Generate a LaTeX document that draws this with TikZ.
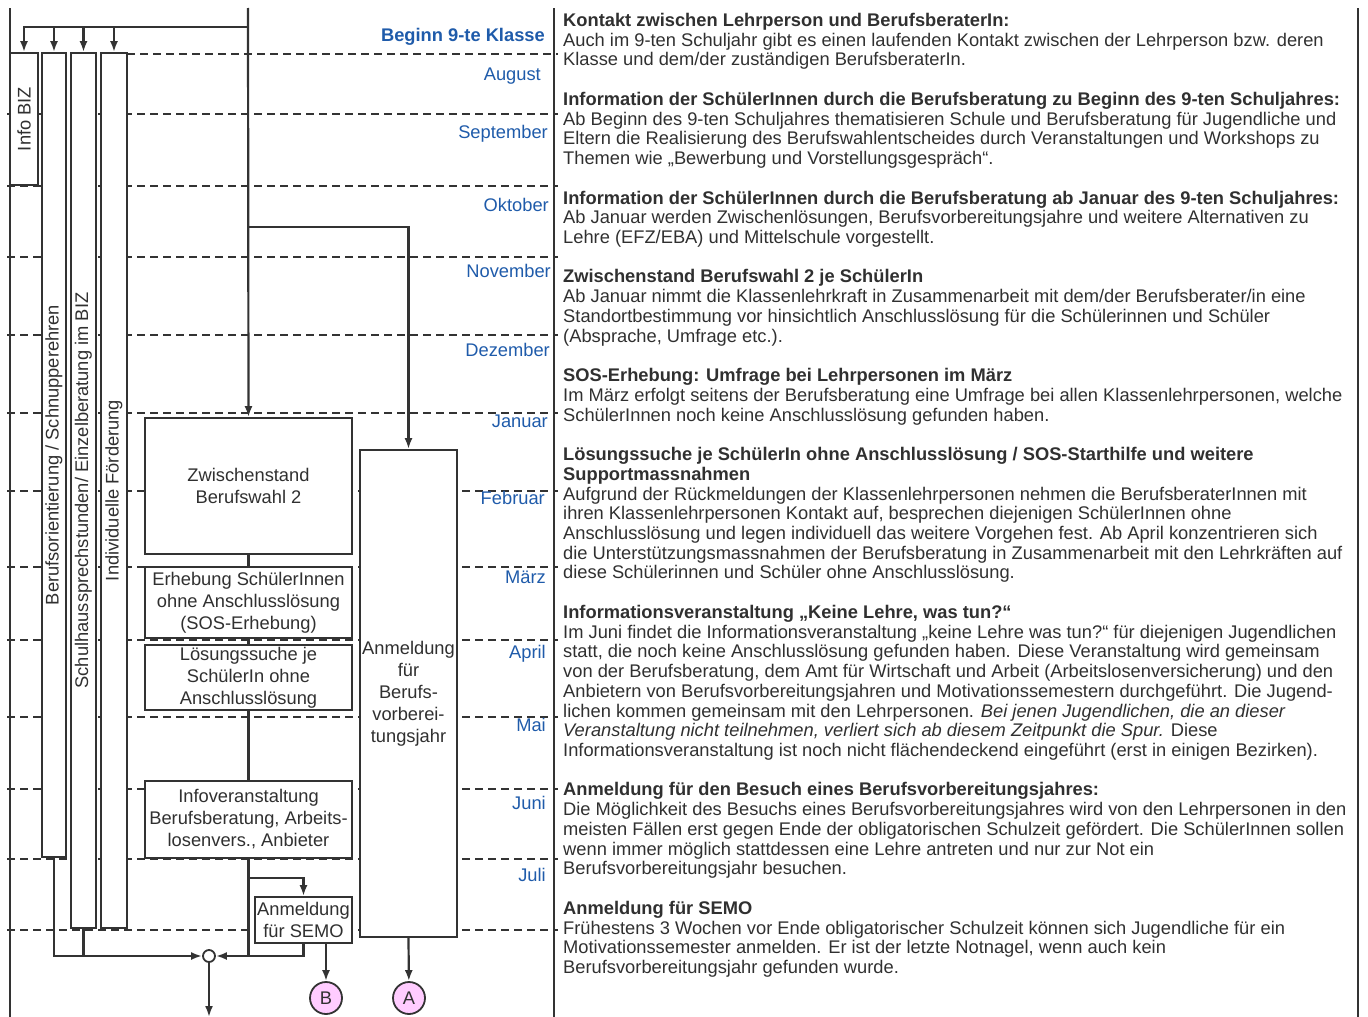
\documentclass[tikz,border=0pt]{standalone}
\usepackage{fontspec}
\setmainfont{Liberation Sans}
\usetikzlibrary{arrows.meta}
\definecolor{linegray}{HTML}{333333}
\definecolor{textgray}{HTML}{303030}
\definecolor{monthblue}{HTML}{1F5BAA}
\definecolor{markpink}{HTML}{FFCCFF}
\newcommand{\boxfont}{\fontsize{18.3}{22}\selectfont}

\tikzset{
  flow/.style={draw=linegray, line width=2.2pt},
  frameline/.style={draw=linegray, line width=1.5pt},
  monthline/.style={draw=linegray, line width=1.3pt, dash pattern=on 8pt off 5pt},
  stepbox/.style={draw=linegray, line width=1.8pt, fill=white, text=textgray,
    align=center, inner sep=0pt, font=\boxfont},
  colbox/.style={draw=linegray, line width=1.8pt, fill=white, inner sep=0pt},
  collabel/.style={rotate=90, text=textgray, font=\boxfont},
  month/.style={anchor=base east, inner sep=0pt, text=monthblue, font=\boxfont},
  % anchor base = baseline of the last line
  infotext/.style={anchor=base west, align=left, inner sep=0pt, text=textgray,
    font=\fontsize{18.3}{19.73}\selectfont},
  letter/.style={circle, draw=linegray, line width=1.8pt, fill=markpink,
    minimum size=32pt, inner sep=0pt, text=textgray, font=\boxfont},
  merge/.style={circle, draw=linegray, line width=1.8pt, fill=white,
    minimum size=12pt, inner sep=0pt},
}

\begin{document}
\begin{tikzpicture}[x=1pt, y=-1pt, >={Latex[length=11pt,width=8pt]}]
\useasboundingbox (0,0) rectangle (1368,1017);

% month grid
\draw[monthline] (127,54) -- (558,54);
\foreach \y in {114,186,257,335,413,491,567,640,717,789,859,930}
  \draw[monthline] (7,\y) -- (558,\y);

% frame
\draw[frameline] (10,8) -- (10,1017);
\draw[frameline] (554,8) -- (554,1017);
\draw[frameline] (1358,8) -- (1358,1017);

% months
\node[month, font=\boxfont\bfseries] (beginn) at (545,41.5) {Beginn 9-te Klasse};
\node[month] (aug) at (541,80.5) {August};
\node[month] (sep) at (548,138.5) {September};
\node[month] (okt) at (549,211.5) {Oktober};
\node[month] (nov) at (551,277.5) {November};
\node[month] (dez) at (550,356.5) {Dezember};
\node[month] (jan) at (548,427.5) {Januar};
\node[month] (feb) at (545,504.5) {Februar};
\node[month] (mar) at (546,583.5) {März};
\node[month] (apr) at (546,658.5) {April};
\node[month] (mai) at (546,731.5) {Mai};
\node[month] (jun) at (546,809.5) {Juni};
\node[month] (jul) at (546,881.5) {Juli};

% columns
\node[colbox, minimum width=28, minimum height=132,
  label={[collabel]center:Info BIZ}] (infobiz) at (24,119) {};
\node[colbox, minimum width=24, minimum height=804,
  label={[collabel]center:Berufsorientierung / Schnupperehren}] (berufso) at (54,455) {};
\node[colbox, minimum width=25, minimum height=875,
  label={[collabel]center:Schulhaussprechstunden/ Einzelberatung im BIZ}] (schulh) at (83.5,490.5) {};
\node[colbox, minimum width=26, minimum height=875,
  label={[collabel]center:Individuelle Förderung}] (indiv) at (114,490.5) {};

% steps
\node[stepbox, minimum width=207, minimum height=136] (zw) at (248.5,486) {Zwischenstand\\Berufswahl 2};
\node[stepbox, minimum width=207, minimum height=71] (erheb) at (248.5,602.5) {Erhebung SchülerInnen\\ohne Anschlusslösung\\(SOS-Erhebung)};
\node[stepbox, minimum width=207, minimum height=65] (loes) at (248.5,677.5) {Lösungssuche je\\SchülerIn ohne\\Anschlusslösung};
\node[stepbox, minimum width=207, minimum height=77] (infov) at (248.5,819.5) {Infoveranstaltung\\Berufsberatung, Arbeits-\\losenvers., Anbieter};
\node[stepbox, minimum width=97, minimum height=46] (semo) at (303.5,920) {Anmeldung\\für SEMO};
\node[stepbox, minimum width=97, minimum height=487] (bvj) at (408.5,693.5) {Anmeldung\\für\\Berufs-\\vorberei-\\tungsjahr};

\node[merge] (join) at (209,956) {};
\node[letter] (markb) at (326,998) {B};
\node[letter] (marka) at (409,998) {A};

% connectors
\coordinate (start) at (248,8);
\coordinate (split) at (248,27);
\coordinate (splitb) at (248,227);
\coordinate (fork) at (248,878);
\coordinate (out) at (209,1017);
\draw[flow, ->] (start) -- (zw.north);
\draw[flow, ->] (split) -| (infobiz.north);
\draw[flow, ->] (split) -| (berufso.north);
\draw[flow, ->] (split) -| (schulh.north);
\draw[flow, ->] (split) -| (indiv.north);
\draw[flow, ->] (splitb) -| (bvj.north);
\draw[flow] (zw) -- (erheb);
\draw[flow] (erheb) -- (loes);
\draw[flow] (loes) -- (infov);
\draw[flow, ->] (fork) -| (semo.north);
\draw[flow, ->] (berufso.south) |- (join);
\draw[flow] (schulh.south) -- (schulh.south |- join);
\draw[flow, ->] (infov.south) |- (join);
\draw[flow] (semo.south) |- (infov.south |- join);
\draw[flow, ->] (join) -- (out);
\draw[flow, ->] (semo.south -| markb) -- (markb);
\draw[flow, ->] (bvj.south) -- (marka);

% explanations
\node[infotext] (kontakt) at (563,65.96) {\textbf{Kontakt zwischen Lehrperson und BerufsberaterIn:}\\
Auch im 9-ten Schuljahr gibt es einen laufenden Kontakt zwischen der Lehrperson bzw. deren\\
Klasse und dem/der zuständigen BerufsberaterIn.};
\node[infotext] (infobeginn) at (563,164.61) {\textbf{Information der SchülerInnen durch die Berufsberatung zu Beginn des 9-ten Schuljahres:}\\
Ab Beginn des 9-ten Schuljahres thematisieren Schule und Berufsberatung für Jugendliche und\\
Eltern die Realisierung des Berufswahlentscheides durch Veranstaltungen und Workshops zu\\
Themen wie „Bewerbung und Vorstellungsgespräch“.};
\node[infotext] (infojanuar) at (563,243.53) {\textbf{Information der SchülerInnen durch die Berufsberatung ab Januar des 9-ten Schuljahres:}\\
Ab Januar werden Zwischenlösungen, Berufsvorbereitungsjahre und weitere Alternativen zu\\
Lehre (EFZ/EBA) und Mittelschule vorgestellt.};
\node[infotext] (zwtext) at (563,342.18) {\textbf{Zwischenstand Berufswahl 2 je SchülerIn}\\
Ab Januar nimmt die Klassenlehrkraft in Zusammenarbeit mit dem/der Berufsberater/in eine\\
Standortbestimmung vor hinsichtlich Anschlusslösung für die Schülerinnen und Schüler\\
(Absprache, Umfrage etc.).};
\node[infotext] (sostext) at (563,421.1) {\textbf{SOS-Erhebung: Umfrage bei Lehrpersonen im März}\\
Im März erfolgt seitens der Berufsberatung eine Umfrage bei allen Klassenlehrpersonen, welche\\
SchülerInnen noch keine Anschlusslösung gefunden haben.};
\node[infotext] (loestext) at (563,578.94) {\textbf{Lösungssuche je SchülerIn ohne Anschlusslösung / SOS-Starthilfe und weitere}\\
\textbf{Supportmassnahmen}\\
Aufgrund der Rückmeldungen der Klassenlehrpersonen nehmen die BerufsberaterInnen mit\\
ihren Klassenlehrpersonen Kontakt auf, besprechen diejenigen SchülerInnen ohne\\
Anschlusslösung und legen individuell das weitere Vorgehen fest. Ab April konzentrieren sich\\
die Unterstützungsmassnahmen der Berufsberatung in Zusammenarbeit mit den Lehrkräften auf\\
diese Schülerinnen und Schüler ohne Anschlusslösung.};
\node[infotext] (infovtext) at (563,756.51) {\textbf{Informationsveranstaltung „Keine Lehre, was tun?“}\\
Im Juni findet die Informationsveranstaltung „keine Lehre was tun?“ für diejenigen Jugendlichen\\
statt, die noch keine Anschlusslösung gefunden haben. Diese Veranstaltung wird gemeinsam\\
von der Berufsberatung, dem Amt für Wirtschaft und Arbeit (Arbeitslosenversicherung) und den\\
Anbietern von Berufsvorbereitungsjahren und Motivationssemestern durchgeführt. Die Jugend-\\
lichen kommen gemeinsam mit den Lehrpersonen. \textit{Bei jenen Jugendlichen, die an dieser}\\
\textit{Veranstaltung nicht teilnehmen, verliert sich ab diesem Zeitpunkt die Spur.} Diese\\
Informationsveranstaltung ist noch nicht flächendeckend eingeführt (erst in einigen Bezirken).};
\node[infotext] (bvjtext) at (563,874.89) {\textbf{Anmeldung für den Besuch eines Berufsvorbereitungsjahres:}\\
Die Möglichkeit des Besuchs eines Berufsvorbereitungsjahres wird von den Lehrpersonen in den\\
meisten Fällen erst gegen Ende der obligatorischen Schulzeit gefördert. Die SchülerInnen sollen\\
wenn immer möglich stattdessen eine Lehre antreten und nur zur Not ein\\
Berufsvorbereitungsjahr besuchen.};
\node[infotext] (semotext) at (563,973.54) {\textbf{Anmeldung für SEMO}\\
Frühestens 3 Wochen vor Ende obligatorischer Schulzeit können sich Jugendliche für ein\\
Motivationssemester anmelden. Er ist der letzte Notnagel, wenn auch kein\\
Berufsvorbereitungsjahr gefunden wurde.};
\end{tikzpicture}
\end{document}
